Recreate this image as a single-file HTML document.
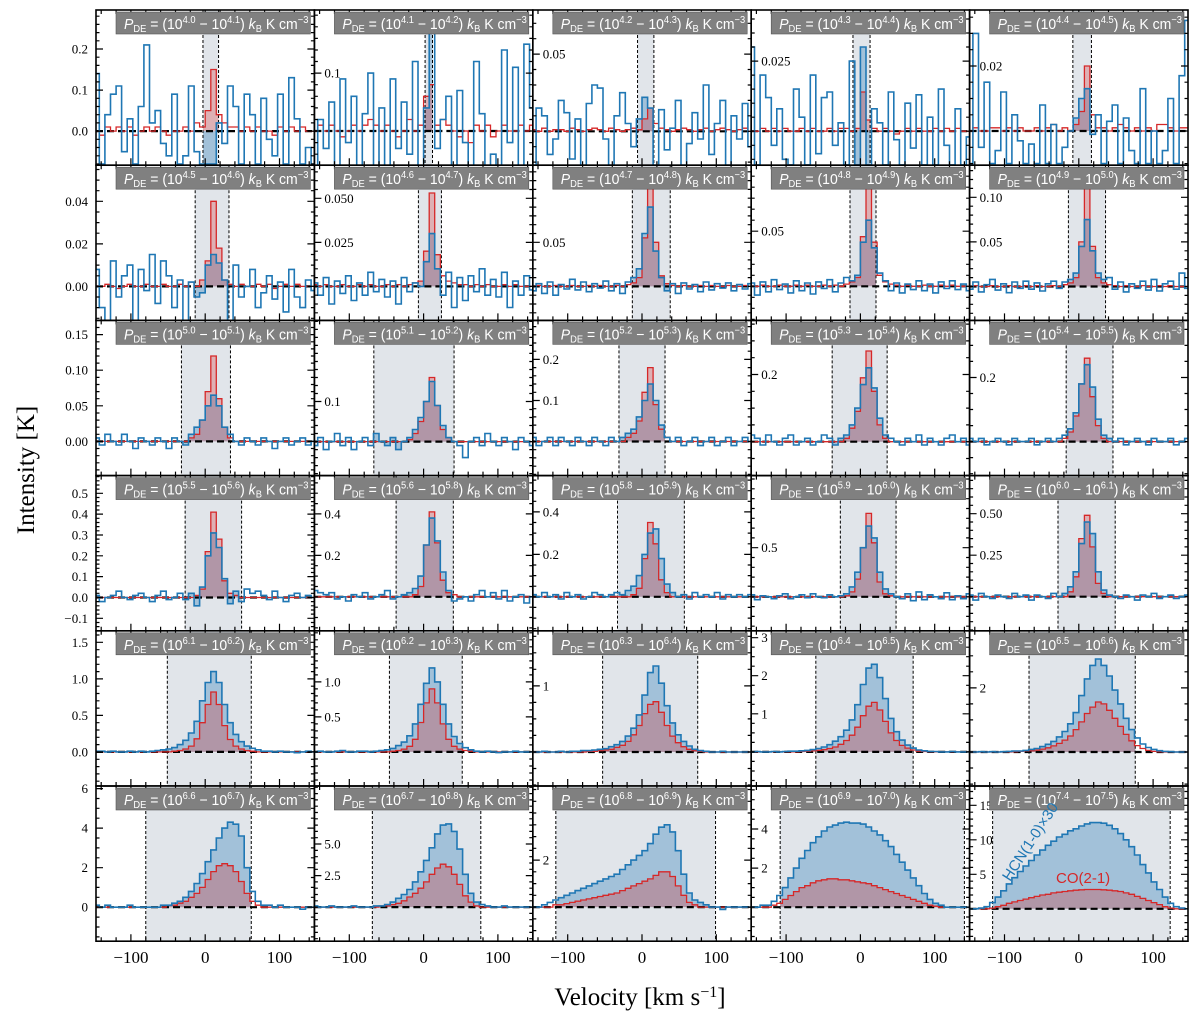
<!DOCTYPE html>
<html><head><meta charset="utf-8">
<style>
html,body{margin:0;padding:0;background:#fff;}
svg{display:block;}
</style></head>
<body>
<svg id="fig" width="1200" height="1017" viewBox="0 0 1200 1017" xmlns="http://www.w3.org/2000/svg">
<text x="0" y="0" transform="translate(34,470) rotate(-90)" text-anchor="middle" font-family="Liberation Serif, serif" font-size="25">Intensity [K]</text>
<text x="640" y="1005" text-anchor="middle" font-family="Liberation Serif, serif" font-size="25">Velocity [km s<tspan baseline-shift="super" font-size="16">−1</tspan>]</text>
</svg>
<script>
// ---- data ----
const titleLo = ["4.0","4.1","4.2","4.3","4.4","4.5","4.6","4.7","4.8","4.9","5.0","5.1","5.2","5.3","5.4","5.5","5.6","5.8","5.9","6.0","6.1","6.2","6.3","6.4","6.5","6.6","6.7","6.8","6.9","7.4"];
const titleHi = ["4.1","4.2","4.3","4.4","4.5","4.6","4.7","4.8","4.9","5.0","5.1","5.2","5.3","5.4","5.5","5.6","5.8","5.9","6.0","6.1","6.2","6.3","6.4","6.5","6.6","6.7","6.8","6.9","7.0","7.5"];
const yMin = [-0.083,-0.059,-0.022,-0.0121,-0.0105,-0.016,-0.0193,-0.0386,-0.031,-0.038,-0.048,-0.085,-0.083,-0.101,-0.106,-0.16,-0.164,-0.16,-0.347,-0.205,-0.466,-0.486,-0.515,-0.895,-1.06,-1.72,-2.7,-1.45,-1.74,-4.7];
const yMax = [0.295,0.209,0.0786,0.0432,0.0372,0.057,0.0688,0.1375,0.11,0.136,0.170,0.3025,0.295,0.361,0.378,0.585,0.585,0.571,1.235,0.729,1.658,1.729,1.833,3.18,3.78,6.13,9.6,5.15,6.2,17.8];
const winLo = [-3,2,-6,-10,-8,-13.5,-7,-13,-14,-14,-32,-67,-31,-38,-17,-27,-37,-33,-27,-28,-51,-46,-53,-60,-67,-80,-69,-116,-108,-116];
const winHi = [18,12,16,13,17,32,24,38,21,36,34,41,31,36,46,49,40,57,48,49,62,52,75,71,76,62,77,99,140,123];
const units = [0.01,0.01,0.001,0.001,0.001, 0.001,0.001,0.001,0.001,0.001, 0.01,0.01,0.01,0.01,0.01, 0.01,0.01,0.01,0.01,0.01, 0.1,0.1,0.1,0.1,0.1, 1,1,1,1,1];
const tickVals = [[0,0.1,0.2],[0.1],[0.05],[0.025],[0.02],[0,0.02,0.04],[0.025,0.05],[0.05],[0.05],[0.05,0.1],[0,0.05,0.1,0.15],[0.1],[0.1,0.2],[0.2],[0.2],[-0.1,0,0.1,0.2,0.3,0.4,0.5],[0.2,0.4],[0.2,0.4],[0.5],[0.25,0.5],[0,0.5,1,1.5],[0.5,1],[1],[1,2,3],[2],[0,2,4,6],[2.5,5],[2],[2,4],[5,10,15]];
const tickText = [["0.0","0.1","0.2"],["0.1"],["0.05"],["0.025"],["0.02"],["0.00","0.02","0.04"],["0.025","0.050"],["0.05"],["0.05"],["0.05","0.10"],["0.00","0.05","0.10","0.15"],["0.1"],["0.1","0.2"],["0.2"],["0.2"],["−0.1","0.0","0.1","0.2","0.3","0.4","0.5"],["0.2","0.4"],["0.2","0.4"],["0.5"],["0.25","0.50"],["0.0","0.5","1.0","1.5"],["0.5","1.0"],["1"],["1","2","3"],["2"],["0","2","4","6"],["2.5","5.0"],["2"],["2","4"],["5","10","15"]];
const minorStep = [0.02,0.02,0.01,0.005,0.005,0.005,0.005,0.01,0.01,0.01,0.01,0.02,0.02,0.05,0.05,0.02,0.05,0.05,0.1,0.05,0.1,0.1,0.25,0.25,0.5,0.5,0.5,0.5,0.5,1];
const chanStart = -150, chanWidth = 7.5;
const blue = [
[14,-8,4,9,11,-5,3,-8,6,21,2,5,-3,-6,9,-8,-6,11,-5,-8,-8,-8,2,-3,11,6,-8,9,4,-8,8,-2,-6,9,-8,13,3,-8,-4,-8],
[-6,2,-3,5,-6,9,-2,6,-6,3,10,-6,4,-6,9,-3,5,-4,12,-6,4,19,-3,2,6,-6,7,-2,-6,12,3,-6,-4,-6,14,-2,11,-6,15,4],
[-22,15,10,-15,-5,20,12,-18,8,-22,18,30,28,-5,-22,10,25,5,-10,8,22,15,-22,14,-12,2,20,-22,-8,12,-5,30,-15,5,20,-22,10,-5,18,-10],
[30,-12,20,12,-5,8,-10,-12,15,5,-12,20,-8,12,14,-5,3,-12,25,-12,30,-12,8,3,-12,14,-3,-12,10,-6,13,-12,5,-12,15,-5,-12,8,-12,-2],
[-10,30,-5,15,-10,-6,12,-10,5,-3,-10,-4,-10,8,-10,2,-10,-5,0,4,10,13,-1,5,-10,3,8,-10,4,-6,-10,13,-10,0,-10,-6,10,-10,17,34],
[8,-10,-16,12,-5,5,10,-16,8,-2,15,-8,12,5,-10,3,-16,2,-5,-3,10,15,11,3,-16,10,-5,0,8,-10,-3,5,-6,2,-12,8,-5,-10,3,-2],
[2,-5,5,-10,3,-4,6,-8,2,-5,8,-3,4,-6,3,-10,5,-3,2,0,14,30,10,-5,8,-12,5,-8,6,-3,10,-5,4,-6,8,-12,3,-5,6,-2],
[-5,3,-8,5,-10,2,-3,8,-4,5,-6,3,-2,6,-5,3,-8,5,10,20,60,90,40,10,-5,3,-8,4,-3,2,-6,5,-4,3,-2,4,-5,2,-3,3],
[3,-8,4,-5,6,-3,2,-6,5,-4,3,-7,4,-2,6,-5,3,8,5,10,40,60,35,12,5,-4,3,-6,2,-3,5,-4,2,-6,4,-2,5,-3,2,-4],
[-3,5,-6,2,8,-4,3,-7,5,-2,6,-3,4,-5,3,6,-2,5,8,15,45,75,40,15,8,10,-3,5,-6,3,-2,6,-4,8,-5,3,6,-3,15,-2],
[0.5,-0.5,1,0,-0.5,1,0,-1,0.5,0,-0.5,0.5,0,-1,0.5,0,-0.5,1,2,3,5,6.5,5,2,1,0,-0.5,0.5,0,-0.5,0.5,0,-1,0,0.5,-0.5,0,0.5,-0.5,0],
[-1,1,-2,0,2,-1,1,-2,0,1,-1,2,0,-1,1,-2,0,1,3,6,10,15,9,4,1,0,-1,-4,0,1,-1,2,0,-1,1,0,-2,1,0,-1],
[1,-1,0,1,-1,1,0,-1,1,0,-1,1,0,-1,1,0,1,2,3,6,10,14,10,4,1,0,1,-1,0,1,-1,0,1,-1,0,1,-1,0,1,0],
[2,1,-1,2,0,-1,1,2,-1,0,1,-1,0,2,1,-1,1,2,5,10,17,22,16,7,2,1,0,-1,1,0,2,-1,1,0,-1,1,2,0,1,-1],
[1,0,1,-1,0,1,0,-1,1,0,0,1,-1,0,1,0,1,2,4,9,18,24,17,7,2,1,0,1,-1,0,1,0,-1,1,0,0,1,-1,0,1],
[1,-2,0,1,3,0,-1,1,2,0,-2,1,3,-1,0,2,-1,2,-4,5,20,31,24,9,-3,3,-2,4,2,3,1,-1,3,0,-2,1,2,0,1,0],
[3,2,1,2,-1,0,-2,1,0,2,-1,0,1,3,-1,0,1,2,4,10,25,38,27,12,3,-2,-1,0,-2,1,3,0,2,-1,3,-2,0,1,-3,0],
[1,0,2,0,1,-1,2,0,1,-1,0,2,1,0,1,2,1,3,5,10,20,30,32,18,6,2,0,1,-1,2,0,1,0,2,-1,1,0,1,0,1],
[2,-3,1,0,-2,1,3,-2,0,2,-1,3,0,-1,2,0,1,3,10,25,50,72,60,25,8,3,0,-2,3,-4,5,-3,2,0,-2,4,-3,1,-2,3],
[1,-2,2,0,-1,1,0,-1,2,0,1,-2,1,0,-1,2,0,2,6,15,32,45,38,15,4,1,0,-1,1,0,-2,1,0,2,-1,0,1,-1,0,1],
[0.1,0.1,0,0.1,0,0,0.1,0,0.1,0,0.1,0.2,0.3,0.4,0.6,1,1.6,2.6,4.2,7,9.5,11,9.5,6.5,4,2.4,1.4,0.8,0.5,0.3,0.1,0.1,0,0.1,0,0,-0.1,0,0.1,0],
[0,0.1,0,0,0.1,0.2,0,0,0.1,0.1,0,0.1,0.2,0.3,0.5,0.9,1.4,2.3,4,6.8,9.8,12,10,6.8,4,2.2,1.2,0.6,0.3,0.1,0,0.1,0,-0.1,0,0,0.1,0,0,0],
[0,0,0.1,0,0,0.1,0,0.1,0.1,0.2,0.2,0.3,0.4,0.5,0.8,1.1,1.6,2.4,3.6,5.6,8.6,12,13,10.4,7,4.4,2.6,1.6,0.9,0.4,0.2,0.1,0,0,0.1,0,0,0,0,0],
[0,0.1,0,0,0.1,0,0.1,0.2,0.2,0.3,0.4,0.6,0.9,1.3,1.9,2.8,4,5.7,8.4,12.4,17.7,22,23,19.5,14,8.8,5.3,3.1,1.8,1,0.5,0.3,0.1,0.1,0,0,0.1,0,0,0],
[0,0,0.1,0,0.1,0,0.1,0.2,0.3,0.3,0.5,0.8,1.1,1.7,2.4,3.3,4.7,6.4,8.8,12.3,17.6,22.8,27,29,27,23.7,19.3,15,10.5,7,4.4,2.5,1.4,0.8,0.4,0.2,0.1,0,0,0],
[0.1,0,0.1,0,0,0,0.1,0,0,0,0,0,0.1,0.1,0.2,0.3,0.5,0.8,1.2,1.7,2.3,2.9,3.5,4,4.3,4.2,3.6,2,0.8,0.3,0.1,0.1,0,0.1,0,0,0,-0.1,0,0],
[0.1,0,0,0.1,0,0,0,0.1,0,0,0,0.1,0.1,0.2,0.4,0.7,1,1.4,2,2.8,3.7,4.7,5.8,6.5,6.6,6,4.6,2.6,1.1,0.4,0.2,0.1,0,0,0.1,0,0,0,0,0],
[0,0,0.1,0.2,0.3,0.4,0.5,0.6,0.7,0.8,0.9,1,1.1,1.2,1.3,1.4,1.6,1.8,2,2.2,2.4,2.7,3.1,3.4,3.5,3.2,2.4,1.4,0.6,0.3,0.2,0.1,0,0,-0.1,0,0,0,0,0],
[0,0,0.1,0.1,0.3,0.6,1,1.5,2,2.5,2.9,3.3,3.6,3.9,4.1,4.2,4.3,4.35,4.3,4.3,4.25,4.1,3.9,3.7,3.4,3.1,2.7,2.3,1.9,1.5,1.1,0.7,0.4,0.2,0.1,0,0,0,0,0],
[0,0,0.1,0.3,0.9,1.7,2.6,3.6,4.5,5.4,6.2,7,7.8,8.5,9.2,9.8,10.4,10.8,11.3,11.6,12,12.3,12.5,12.5,12.4,12.1,11.6,10.9,10,9,7.8,6.4,5.2,3.9,2.8,1.7,0.8,0.3,0.1,0]
];
const red = [
[0,-1,1,0,1,0,1,-1,0,1,0,1,0,-1,0,0,1,0,2,1,5,15,4,2,1,1,0,1,0,1,0,0,-1,1,0,1,0,1,0,0],
[0,1,0,1,0,-1,0,1,0,1,2,1,0,1,0,-1,0,2,0,1,6,8,1,2,1,0,-1,0,-2,1,0,1,-1,0,1,0,0,1,0,1],
[1,0,2,0,1,1,0,2,1,0,1,2,1,0,2,1,0,1,2,1,8,15,5,2,1,0,1,2,1,0,1,2,0,1,2,1,0,1,2,0],
[0,0,1,0,1,0,1,0,0,1,0,1,0,0,1,0,1,1,0,1,14,4,1,0,1,0,-1,0,1,0,1,0,0,1,0,1,0,1,0,0],
[0,1,0,0,1,1,0,1,0,1,0,0,1,0,1,2,0,1,0,2,6,20,5,1,1,0,1,2,1,0,1,0,1,0,2,2,1,0,1,1],
[0,0,1,0,-1,0,1,0,0,1,0,0,1,0,0,1,0,2,0,3,12,40,18,3,1,0,1,0,0,1,0,1,-1,0,1,0,1,0,0,0],
[1,0,1,0,0,1,0,0,1,0,1,0,0,1,0,1,0,1,2,3,20,53,18,6,3,2,1,1,0,1,0,1,0,0,1,0,1,0,0,0],
[0,1,0,0,1,0,0,1,0,0,1,0,1,0,0,1,0,2,4,10,55,124,50,12,3,1,0,1,0,0,1,0,1,0,0,1,0,0,1,0],
[0,0,1,0,0,1,0,0,1,0,1,0,0,1,0,1,0,2,4,8,45,97,40,10,4,2,1,0,1,0,0,1,0,0,1,0,1,0,0,0],
[0,1,0,0,1,0,0,1,0,0,1,0,1,0,0,1,0,2,4,10,50,117,45,10,4,2,1,0,1,0,0,1,0,0,1,0,1,0,0,0],
[0,0,0,0,0,0,0,0,0,0,0,0,0,0,0,0,0,0.5,1,3,7,12,6,2,0.5,0,0,0,0,0,0,0,0,0,0,0,0,0,0,0],
[0,0,0,0,0,0,0,0,0,0,0,0,0,0,0,0,0,0.5,2,5,10,16,9,3,1,0,0,0,0,0,0,0,0,0,0,0,0,0,0,0],
[0,0,0,0,0,0,0,0,0,0,0,0,0,0,0,0,0,1,2,5,12,18,9,3,1,0,0,0,0,0,0,0,0,0,0,0,0,0,0,0],
[0,0,0,0,0,0,0,0,0,0,0,0,0,0,0,0,0,1,4,9,19,27,15,5,1,0,0,0,0,0,0,0,0,0,0,0,0,0,0,0],
[0,0,0,0,0,0,0,0,0,0,0,0,0,0,0,0,0,1,3,8,18,26,14,5,1,0,0,0,0,0,0,0,0,0,0,0,0,0,0,0],
[0,0,0,0,0,0,0,0,0,0,0,0,0,0,0,0,0,0,1,4,22,41,28,8,2,1,0,0,0,0,0,0,0,0,0,0,0,0,0,0],
[0,0,0,0,0,0,0,0,0,0,0,0,0,0,0,0,0,0,1,5,25,41,26,8,2,1,0,0,0,0,0,0,0,0,0,0,0,0,0,0],
[0,0,0,0,0,0,0,0,0,0,0,0,0,0,0,0,0,0,1,4,18,35,25,8,2,0,0,0,0,0,0,0,0,0,0,0,0,0,0,0],
[0,0,0,0,0,0,0,0,0,0,0,0,0,0,0,0,0,1,5,18,50,85,55,15,3,1,0,0,0,0,0,0,0,0,0,0,0,0,0,0],
[0,0,0,0,0,0,0,0,0,0,0,0,0,0,0,0,0,0,3,12,35,49,30,8,2,0,0,0,0,0,0,0,0,0,0,0,0,0,0,0],
[0,0,0,0,0,0,0,0,0,0,0,0,0,0,0.1,0.2,0.4,0.8,1.8,4,6.5,8.2,6.5,3.6,1.7,0.8,0.4,0.2,0.1,0,0,0,0,0,0,0,0,0,0,0],
[0,0,0,0,0,0,0,0,0,0,0,0,0,0,0.1,0.2,0.4,0.8,1.8,4.2,7,9,7,4,1.8,0.8,0.4,0.2,0.1,0,0,0,0,0,0,0,0,0,0,0],
[0,0,0,0,0,0,0,0,0,0,0.1,0.1,0.2,0.3,0.4,0.7,1,1.6,2.6,4,5.8,7.2,7.6,6,4,2.4,1.4,0.8,0.4,0.2,0.1,0,0,0,0,0,0,0,0,0],
[0,0,0,0,0,0,0,0,0,0.1,0.2,0.3,0.4,0.6,0.9,1.3,2,3,4.4,6.5,9.5,12,13,11,8,5,3,1.7,1,0.5,0.2,0.1,0,0,0,0,0,0,0,0],
[0,0,0,0,0,0,0,0,0.1,0.2,0.3,0.4,0.6,0.9,1.3,1.9,2.7,3.7,5,7,9.4,12,14,15.6,15,13,10.5,8,5.5,3.5,2,1.1,0.5,0.2,0.1,0,0,0,0,0],
[0,0,0,0,0,0,0,0,0,0,0,0,0,0.1,0.1,0.2,0.3,0.5,0.7,1,1.4,1.8,2.1,2.2,2.1,1.8,1.3,0.7,0.3,0.1,0,0,0,0,0,0,0,0,0,0],
[0,0,0,0,0,0,0,0,0,0,0,0,0.1,0.1,0.2,0.3,0.5,0.8,1.1,1.5,2,2.6,3.1,3.4,3.2,2.6,1.8,0.9,0.4,0.1,0,0,0,0,0,0,0,0,0,0],
[0,0,0,0,0.1,0.1,0.15,0.2,0.25,0.3,0.35,0.4,0.45,0.5,0.55,0.6,0.7,0.8,0.9,1,1.1,1.2,1.35,1.5,1.5,1.3,0.9,0.5,0.2,0.1,0,0,0,0,0,0,0,0,0,0],
[0,0,0,0,0.1,0.2,0.4,0.6,0.8,1,1.1,1.25,1.35,1.4,1.45,1.45,1.4,1.4,1.35,1.3,1.25,1.2,1.1,1,0.9,0.8,0.7,0.6,0.5,0.4,0.3,0.2,0.1,0.05,0,0,0,0,0,0],
[0,0,0,0,0.1,0.3,0.5,0.8,1,1.2,1.4,1.6,1.8,2,2.1,2.3,2.4,2.5,2.6,2.7,2.75,2.8,2.8,2.8,2.75,2.7,2.6,2.5,2.3,2.1,1.8,1.5,1.2,0.9,0.6,0.3,0.1,0,0,0]
];
const xTickVals = [-100,0,100];
const xTickText = ["−100","0","100"];

// ---- layout ----
const NS = "http://www.w3.org/2000/svg";
const svg = document.getElementById('fig');
const L0 = 96, PW = 218.4, T0 = 10, PH = 155.2, XMIN = -147, XMAX = 147;
function mk(tag, attrs, parent){ const e=document.createElementNS(NS,tag); for(const k in attrs) e.setAttribute(k,attrs[k]); (parent||svg).appendChild(e); return e; }
const defs = mk('defs',{});

for(let p=0;p<30;p++){
  const col=p%5, row=Math.floor(p/5);
  const x0=L0+col*PW, y0=T0+row*PH;
  const xs=v=>x0+(v-XMIN)/(XMAX-XMIN)*PW;
  const ys=k=>y0+(yMax[p]-k)/(yMax[p]-yMin[p])*PH;
  const g=mk('g',{});
  
  
  const cp=mk('clipPath',{id:'cp'+p},defs); mk('rect',{x:x0,y:y0,width:PW,height:PH},cp);
  const wp=mk('clipPath',{id:'wp'+p},defs); mk('rect',{x:xs(winLo[p]),y:y0,width:xs(winHi[p])-xs(winLo[p]),height:PH},wp);
  const inner=mk('g',{'clip-path':'url(#cp'+p+')'},g);
  const win=mk('rect',{x:xs(winLo[p]),y:y0,width:xs(winHi[p])-xs(winLo[p]),height:PH,fill:'#e1e5ea'},inner);
  
  
  function stepPath(arr){
    let d='';
    for(let i=0;i<arr.length;i++){
      const a=chanStart+i*chanWidth, b=a+chanWidth, y=ys(arr[i]*units[p]);
      d+=(i===0?'M':'L')+xs(a).toFixed(1)+','+y.toFixed(1)+'H'+xs(b).toFixed(1);
    }
    return d;
  }
  const bd=stepPath(blue[p]), rd=stepPath(red[p]);
  const stX=xs(chanStart).toFixed(1), z=ys(0).toFixed(1);
  const fw=mk('g',{'clip-path':'url(#wp'+p+')'},inner);
  const bf=mk('path',{d:bd+'V'+z+'H'+stX+'Z',fill:'rgba(31,119,180,0.32)'},fw);
  
  
  const rf=mk('path',{d:rd+'V'+z+'H'+stX+'Z',fill:'rgba(214,39,40,0.28)'},fw);
  
  
  [winLo[p],winHi[p]].forEach(v=>{
    const l=mk('line',{x1:xs(v),x2:xs(v),y1:y0,y2:y0+PH,stroke:'#000','stroke-width':1,'stroke-dasharray':'3,2'},inner);
    
    
  });
  const zl=mk('line',{x1:x0,x2:x0+PW,y1:z,y2:z,stroke:'#000','stroke-width':2.2,'stroke-dasharray':'7,4'},inner);
  
  
  const rl=mk('path',{d:rd,fill:'none',stroke:'#d62728','stroke-width':1.3},inner);
  
  
  const bl=mk('path',{d:bd,fill:'none',stroke:'#1f77b4','stroke-width':1.6},inner);
  
  
  // ticks
  let td='';
  for(let v=-140;v<=140;v+=20){ const len=(v%100===0)?7:4; const X=xs(v).toFixed(1); td+='M'+X+','+(y0+PH)+'v-'+len+'M'+X+','+y0+'v'+len; }
  const ms=minorStep[p]; const kmin=Math.ceil(yMin[p]/ms), kmax=Math.floor(yMax[p]/ms);
  for(let k=kmin;k<=kmax;k++){ const Y=ys(k*ms).toFixed(1); td+='M'+x0+','+Y+'h3.5M'+(x0+PW)+','+Y+'h-3.5'; }
  tickVals[p].forEach(t=>{ const Y=ys(t).toFixed(1); td+='M'+x0+','+Y+'h7M'+(x0+PW)+','+Y+'h-7'; });
  mk('path',{d:td,stroke:'#000','stroke-width':1.2,fill:'none'},inner);
  // title box
  const tb=mk('g',{},g);
  
  
  mk('rect',{x:x0+20,y:y0+2,width:PW-24,height:22,fill:'#808080',stroke:'#555','stroke-width':0.6},tb);
  const tt=mk('text',{x:x0+PW-6,y:y0+19,'text-anchor':'end','font-family':'Liberation Sans, sans-serif','font-size':15,fill:'#fff',textLength:PW-34,lengthAdjust:'spacingAndGlyphs'},tb);
  tt.innerHTML='<tspan font-style="italic">P</tspan><tspan font-size="10" dy="3">DE</tspan><tspan dy="-3"> = (10</tspan><tspan font-size="10" dy="-6">'+titleLo[p]+'</tspan><tspan dy="6"> − 10</tspan><tspan font-size="10" dy="-6">'+titleHi[p]+'</tspan><tspan dy="6">) </tspan><tspan font-style="italic">k</tspan><tspan font-size="10" dy="3">B</tspan><tspan dy="-3"> K cm</tspan><tspan font-size="10" dy="-6">−3</tspan>';
  // y tick labels
  tickVals[p].forEach((t,j)=>{
    const Y=ys(t)+4.5;
    const lab=mk('text',{x:col===0?x0-8:x0+10,y:Y,'text-anchor':col===0?'end':'start','font-family':'Liberation Serif, serif','font-size':13},col===0?g:inner);
    lab.textContent=tickText[p][j];
    
    
  });
  mk('rect',{x:x0,y:y0,width:PW,height:PH,fill:'none',stroke:'#000','stroke-width':1.6},g);
  if(row===5){
    xTickVals.forEach((v,j)=>{
      const lab=mk('text',{x:xs(v),y:963,'text-anchor':'middle','font-family':'Liberation Serif, serif','font-size':17},g);
      lab.textContent=xTickText[j];
      
      
    });
  }
}
// legend annotations on last panel
const a1=mk('text',{x:0,y:0,transform:'translate(1010,882) rotate(-57)','font-family':'Liberation Sans, sans-serif','font-size':15,fill:'#1f77b4'});
a1.textContent='HCN(1-0)×30';


const a2=mk('text',{x:1056,y:883,'font-family':'Liberation Sans, sans-serif','font-size':15,fill:'#d62728'});
a2.textContent='CO(2-1)';


</script>
</body></html>
